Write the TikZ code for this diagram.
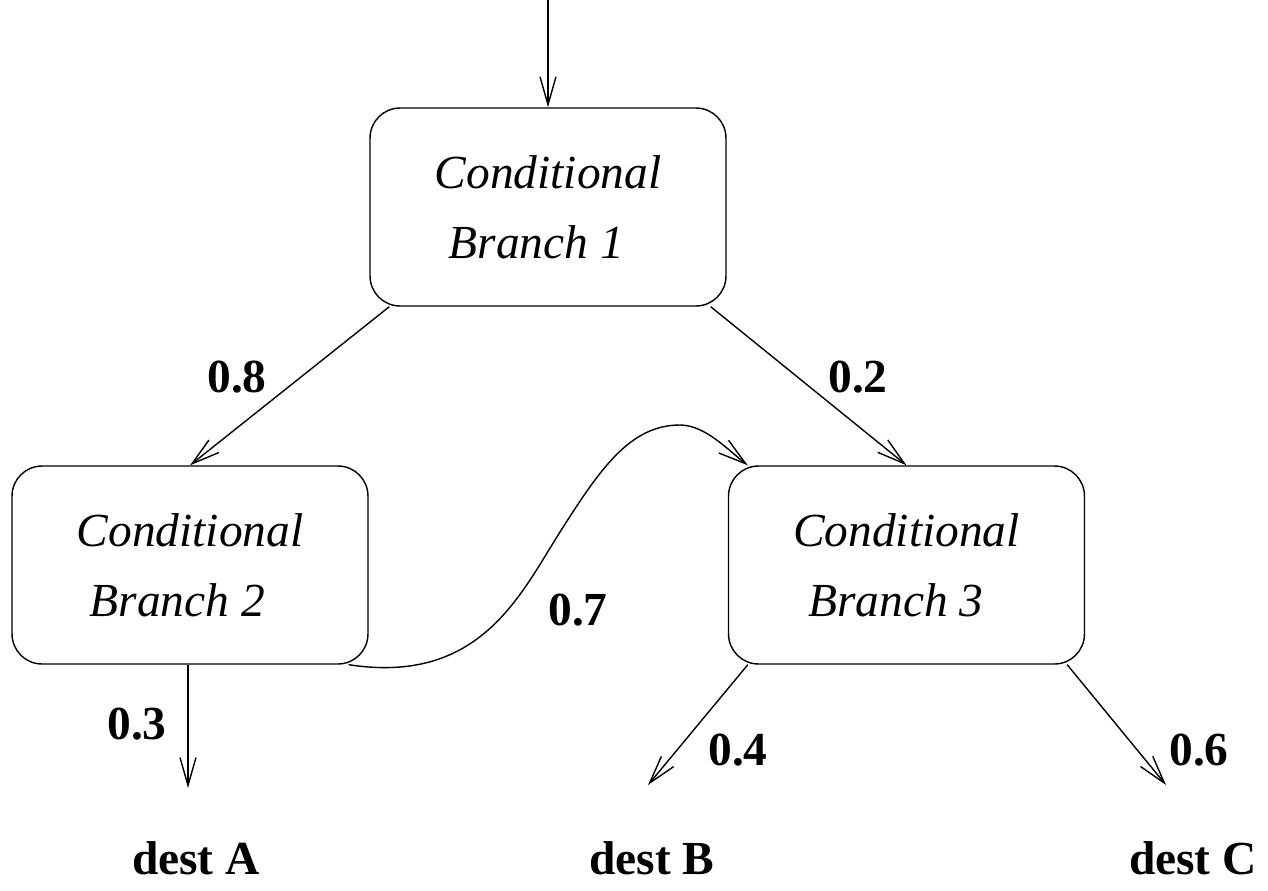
\documentclass[tikz,border=0pt]{standalone}
\usepackage{fontspec}
\setmainfont{Liberation Serif}
\usetikzlibrary{arrows.meta,calc}
\begin{document}
\begin{tikzpicture}[x=0.02cm,y=-0.02cm,
  line width=0.8pt,
  cbox/.style={draw,rounded corners=0.6cm,minimum width=7.12cm,minimum height=3.96cm,
    align=left,font=\fontsize{27}{40}\selectfont\itshape,inner sep=0pt},
  lbl/.style={font=\fontsize{27}{32}\selectfont\bfseries,inner sep=0pt},
  arr/.style={-{Straight Barb[length=0.56cm,width=0.32cm]}}]
\useasboundingbox (0,0) rectangle (1268,890);
\node[cbox] (b1) at (548,207) {Conditional\\\hspace{0.28cm}Branch 1};
\node[cbox] (b2) at (190,565) {Conditional\\\hspace{0.26cm}Branch 2};
\node[cbox] (b3) at (906.5,565) {Conditional\\\hspace{0.3cm}Branch 3};
\coordinate (top) at (548,0);
\coordinate (ea) at (188,788);
\coordinate (eb) at (648,785);
\coordinate (ec) at (1166,785);
\coordinate (mid) at (560,532);
\coordinate (peak) at (680,425);
\draw[arr] (top) -- (b1.north);
\draw[arr] ([xshift=0.4cm]b1.south west) -- (b2.north);
\draw[arr] ([xshift=-0.32cm]b1.south east) -- (b3.north);
\draw[arr] (b2.south -| ea) -- (ea);
\draw[arr] ([xshift=0.4cm]b3.south west) -- (eb);
\draw[arr] ([xshift=-0.36cm]b3.south east) -- (ec);
\draw[arr] ([xshift=-0.4cm]b2.south east) .. controls (480,685) and (520,595) .. (mid)
  .. controls (600,469) and (630,425) .. (peak)
  .. controls (705,425) and (728,450) .. ([xshift=0.4cm]b3.north west);
\node[lbl] (l08) at (237,377) {0.8};
\node[lbl] (l02) at (858,377) {0.2};
\node[lbl] (l07) at (578,610) {0.7};
\node[lbl] (l03) at (137,724) {0.3};
\node[lbl] (l04) at (738,750) {0.4};
\node[lbl] (l06) at (1199,750) {0.6};
\node[lbl] (da) at (196,858) {dest A};
\node[lbl] (db) at (652,858) {dest B};
\node[lbl] (dc) at (1193,858) {dest C};
\end{tikzpicture}
\end{document}
